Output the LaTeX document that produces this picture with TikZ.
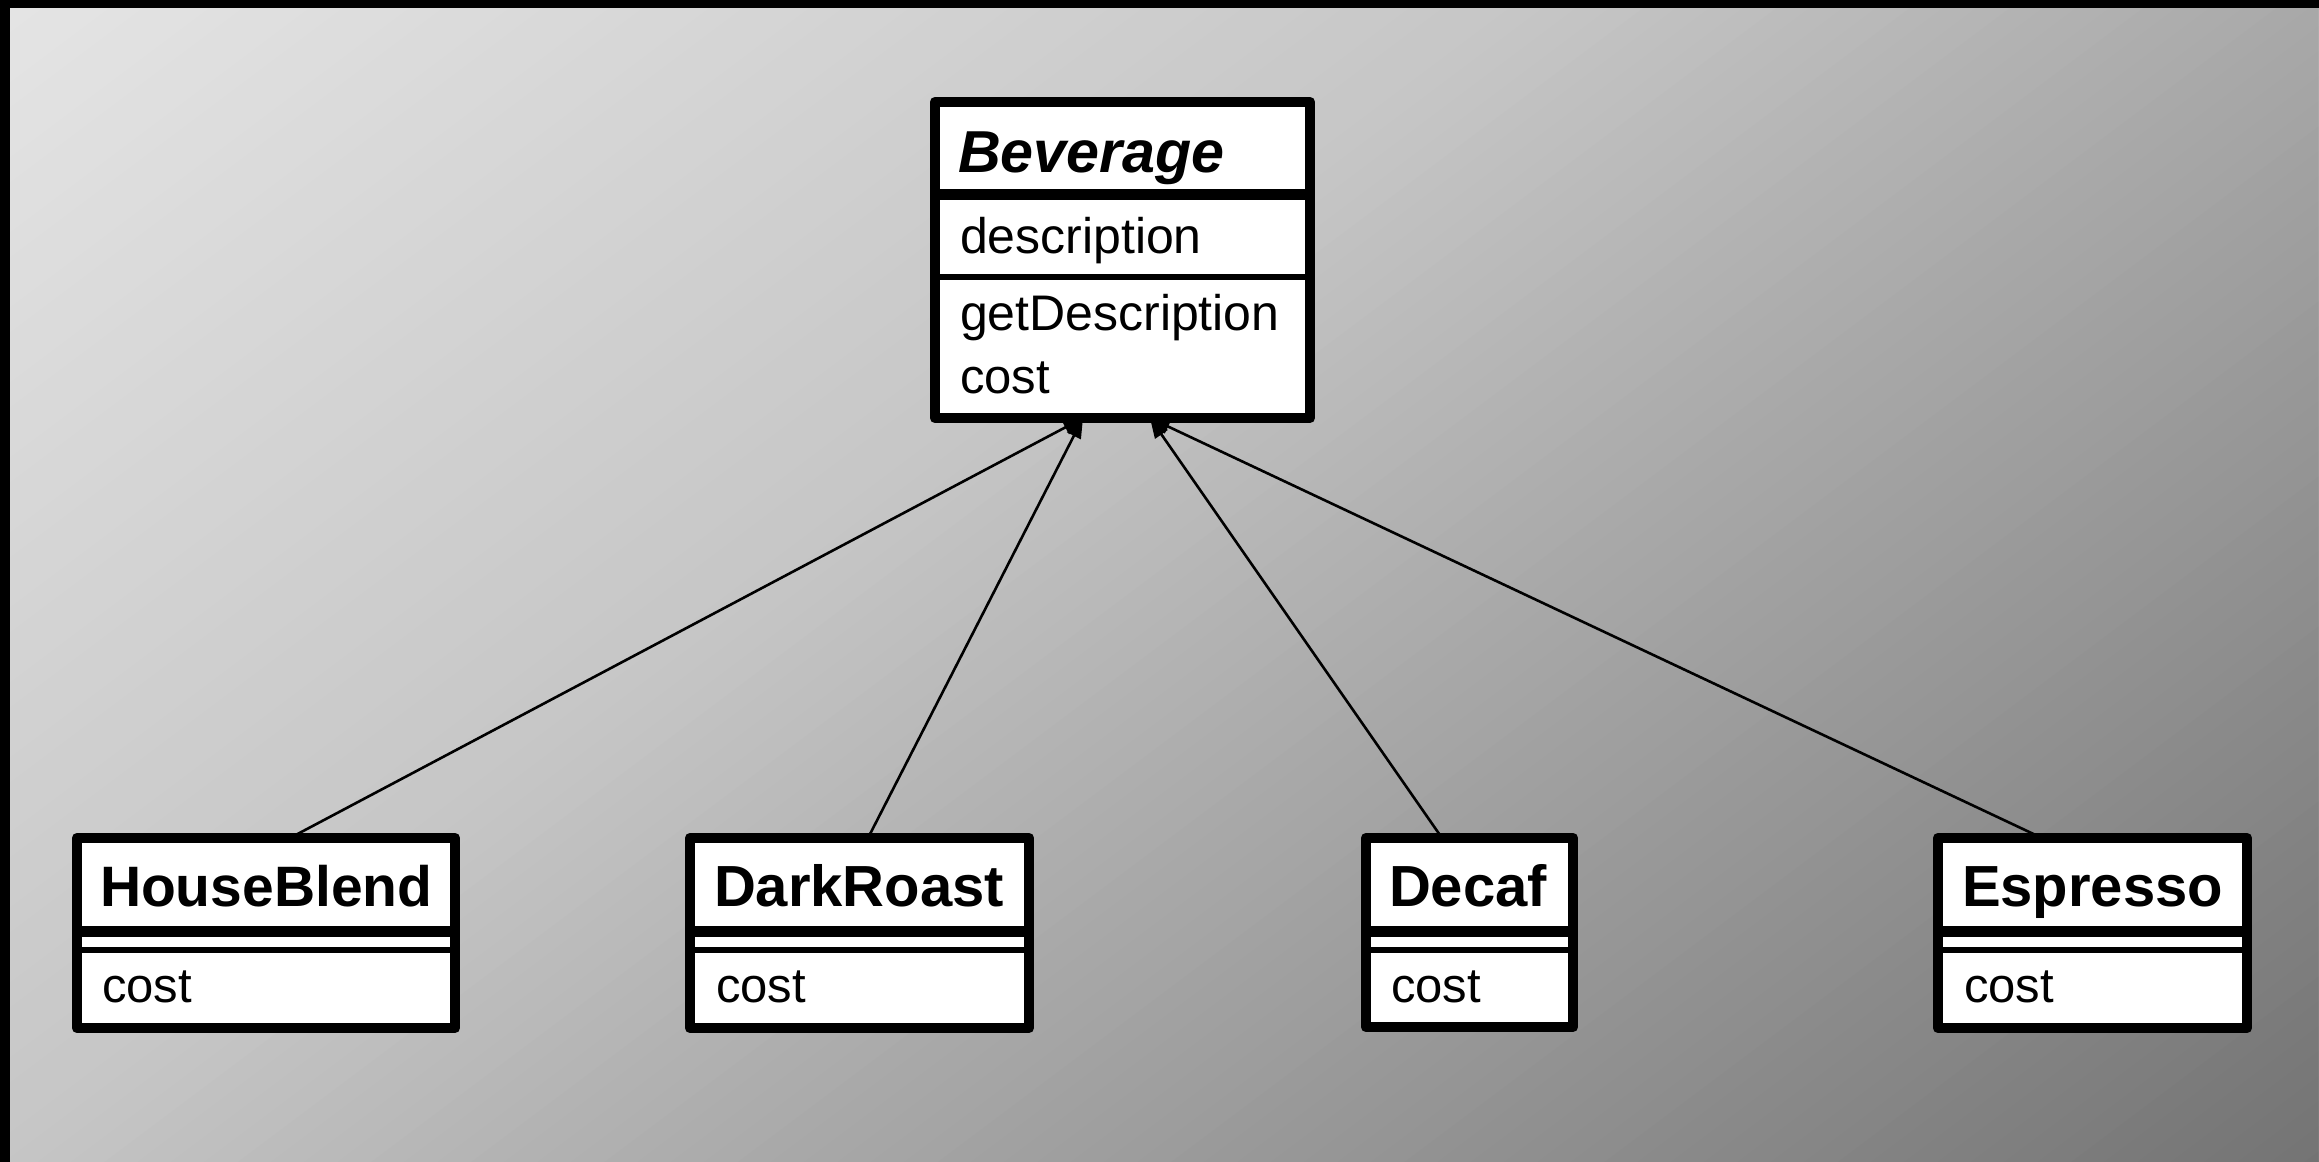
\documentclass[tikz,border=0pt]{standalone}
\usepackage{fontspec}
\setmainfont{Liberation Sans}
\usetikzlibrary{arrows.meta,calc}
\begin{document}
\begin{tikzpicture}[x=0.5pt,y=-0.5pt,
  classbox/.style={draw=none, fill=none, rectangle,
    inner sep=0pt, outer sep=0pt, anchor=north west},
  boxline/.style={draw=black, fill=white, line width=5.25pt, line join=round},
  thickdiv/.style={line width=5.5pt, black},
  thindiv/.style={line width=3pt, black},
  nametext/.style={anchor=base west, inner sep=0pt, outer sep=0pt,
    font=\fontsize{29pt}{34pt}\selectfont\bfseries},
  bodytext/.style={anchor=base west, inner sep=0pt, outer sep=0pt,
    font=\fontsize{25pt}{30pt}\selectfont},
  costtext/.style={anchor=base west, inner sep=0pt, outer sep=0pt,
    font=\fontsize{24.5pt}{30pt}\selectfont},
  inh/.style={line width=1.3pt, black, -{Triangle[length=10pt,width=7.5pt]}}]
\useasboundingbox (0,0) rectangle (2319,1162);
% frame and gradient background
\fill[black] (0,0) rectangle (2319,1162);
\begin{scope}
\clip (10,8) rectangle (2318,1162);
\foreach \i in {0,...,115} {
  \pgfmathsetmacro\T{\i*20}
  \pgfmathsetmacro\s{(\T+10)/2308}
  \pgfmathtruncatemacro\v{\s<0.4 ? 229-77.5*\s : (\s<0.6 ? 198-145*(\s-0.4) : 169-132.5*(\s-0.6))}
  \pgfmathsetmacro\px{10+0.6*\T}
  \pgfmathsetmacro\py{8+0.8*\T}
  \fill[fill={rgb,255:red,\v;green,\v;blue,\v}]
    (\px+3200,\py-2400) -- (\px-3200,\py+2400) -- (\px-3200+2400,\py+2400+3200) -- (\px+3200+2400,\py-2400+3200) -- cycle;
}
\end{scope}
% class box frames as named nodes
\path (935,102) node[classbox, minimum width=187.5pt, minimum height=158pt] (bev) {};
\path (77,838) node[classbox, minimum width=189pt, minimum height=95pt] (hb) {};
\path (690,838) node[classbox, minimum width=169.5pt, minimum height=95pt] (dr) {};
\path (1366,838) node[classbox, minimum width=103.5pt, minimum height=94.5pt] (dc) {};
\path (1938,838) node[classbox, minimum width=154.5pt, minimum height=95pt] (es) {};
% connectors (generalization)
\draw[inh] ([xshift=106.5pt]hb.north west) -- ([xshift=74pt]bev.south west);
\draw[inh] ([xshift=89pt]dr.north west) -- ([xshift=74pt]bev.south west);
\draw[inh] ([xshift=38pt]dc.north west) -- ([xshift=107.5pt]bev.south west);
\draw[inh] ([xshift=52pt]es.north west) -- ([xshift=107.5pt]bev.south west);
% visible boxes
\foreach \n in {bev,hb,dr,dc,es} {
  \draw[boxline] (\n.north west) rectangle (\n.south east);
}
% dividers
\draw[thickdiv] (bev.north west |- 0,194.5) -- (bev.north east |- 0,194.5);
\draw[thindiv] (bev.north west |- 0,277) -- (bev.north east |- 0,277);
\foreach \n in {hb,dr,dc,es} {
  \draw[thickdiv] (\n.north west |- 0,931.5) -- (\n.north east |- 0,931.5);
  \draw[thindiv] (\n.north west |- 0,950) -- (\n.north east |- 0,950);
}
% texts
\node[nametext, font=\fontsize{29.6pt}{34pt}\selectfont\bfseries\itshape] (bevname) at (958,172) {Beverage};
\node[bodytext] (bevattr) at (960,253) {description};
\node[bodytext] (bevm1) at (960,330) {getDescription};
\node[costtext] (bevm2) at (960,393) {cost};
\node[nametext, font=\fontsize{28.5pt}{34pt}\selectfont\bfseries] (hbname) at (100,906) {HouseBlend};
\node[costtext] (hbm) at (102,1002) {cost};
\node[nametext] (drname) at (714,906) {DarkRoast};
\node[costtext] (drm) at (716,1002) {cost};
\node[nametext] (dcname) at (1389,906) {Decaf};
\node[costtext] (dcm) at (1391,1002) {cost};
\node[nametext] (esname) at (1962,906) {Espresso};
\node[costtext] (esm) at (1964,1002) {cost};
\end{tikzpicture}
\end{document}
